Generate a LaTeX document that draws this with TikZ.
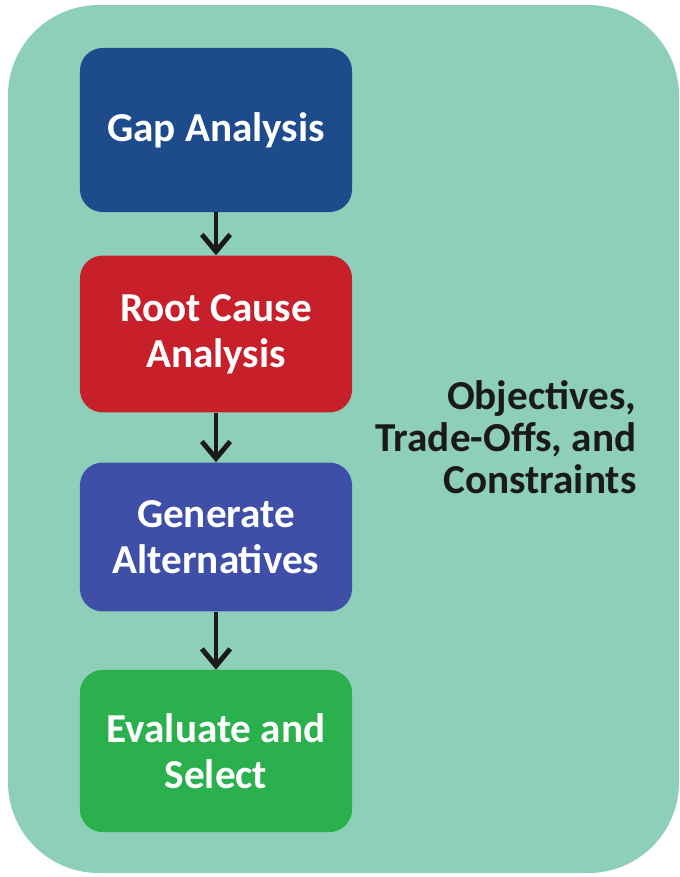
\documentclass[tikz,border=0pt]{standalone}
\usepackage{fontspec}
\setmainfont{Carlito}
\usetikzlibrary{arrows.meta}
\definecolor{panelgreen}{HTML}{8DCFB8}
\definecolor{gapblue}{HTML}{1D4B8B}
\definecolor{rootred}{HTML}{C8202B}
\definecolor{genblue}{HTML}{3F4FA8}
\definecolor{evalgreen}{HTML}{2BB04E}
\definecolor{darktext}{HTML}{1A1A1A}
\tikzset{
  stepbox/.style={rounded corners=0.6cm, minimum width=7.2cm, text=white,
    font=\bfseries\fontsize{31}{35}\selectfont, align=center},
  flowarrow/.style={draw=darktext, line width=1.3mm, -{Straight Barb[length=4.5mm,width=7.5mm]}}
}
\begin{document}
\begin{tikzpicture}[x=0.02646cm, y=-0.02646cm]
			%%%%% START %%%%%
			\useasboundingbox (0, 0) rectangle (679, 877);
			
			\fill[panelgreen, rounded corners=2.4cm] (8, 5) rectangle (679, 873);
			
			\node[stepbox, fill=gapblue, minimum height=4.34cm] (gap) at (216, 130) {Gap Analysis};
			\node[stepbox, fill=rootred, minimum height=4.15cm] (root) at (216, 334) {Root Cause\\Analysis};
			\node[stepbox, fill=genblue, minimum height=3.94cm] (gen) at (216, 537) {Generate\\Alternatives};
			\node[stepbox, fill=evalgreen, minimum height=4.29cm] (eval) at (216, 751) {Evaluate and\\Select};
			
			\draw[flowarrow] (gap) -- (root);
			\draw[flowarrow] (root) -- (gen);
			\draw[flowarrow] (gen) -- (eval);
			
			\node[text=darktext, align=right, font=\bfseries\fontsize{31}{31.5}\selectfont] (goals) at (506, 437) {Objectives,\\Trade-Offs, and\\Constraints};
			
			%%%%% END %%%%%
		\end{tikzpicture}
\end{document}
